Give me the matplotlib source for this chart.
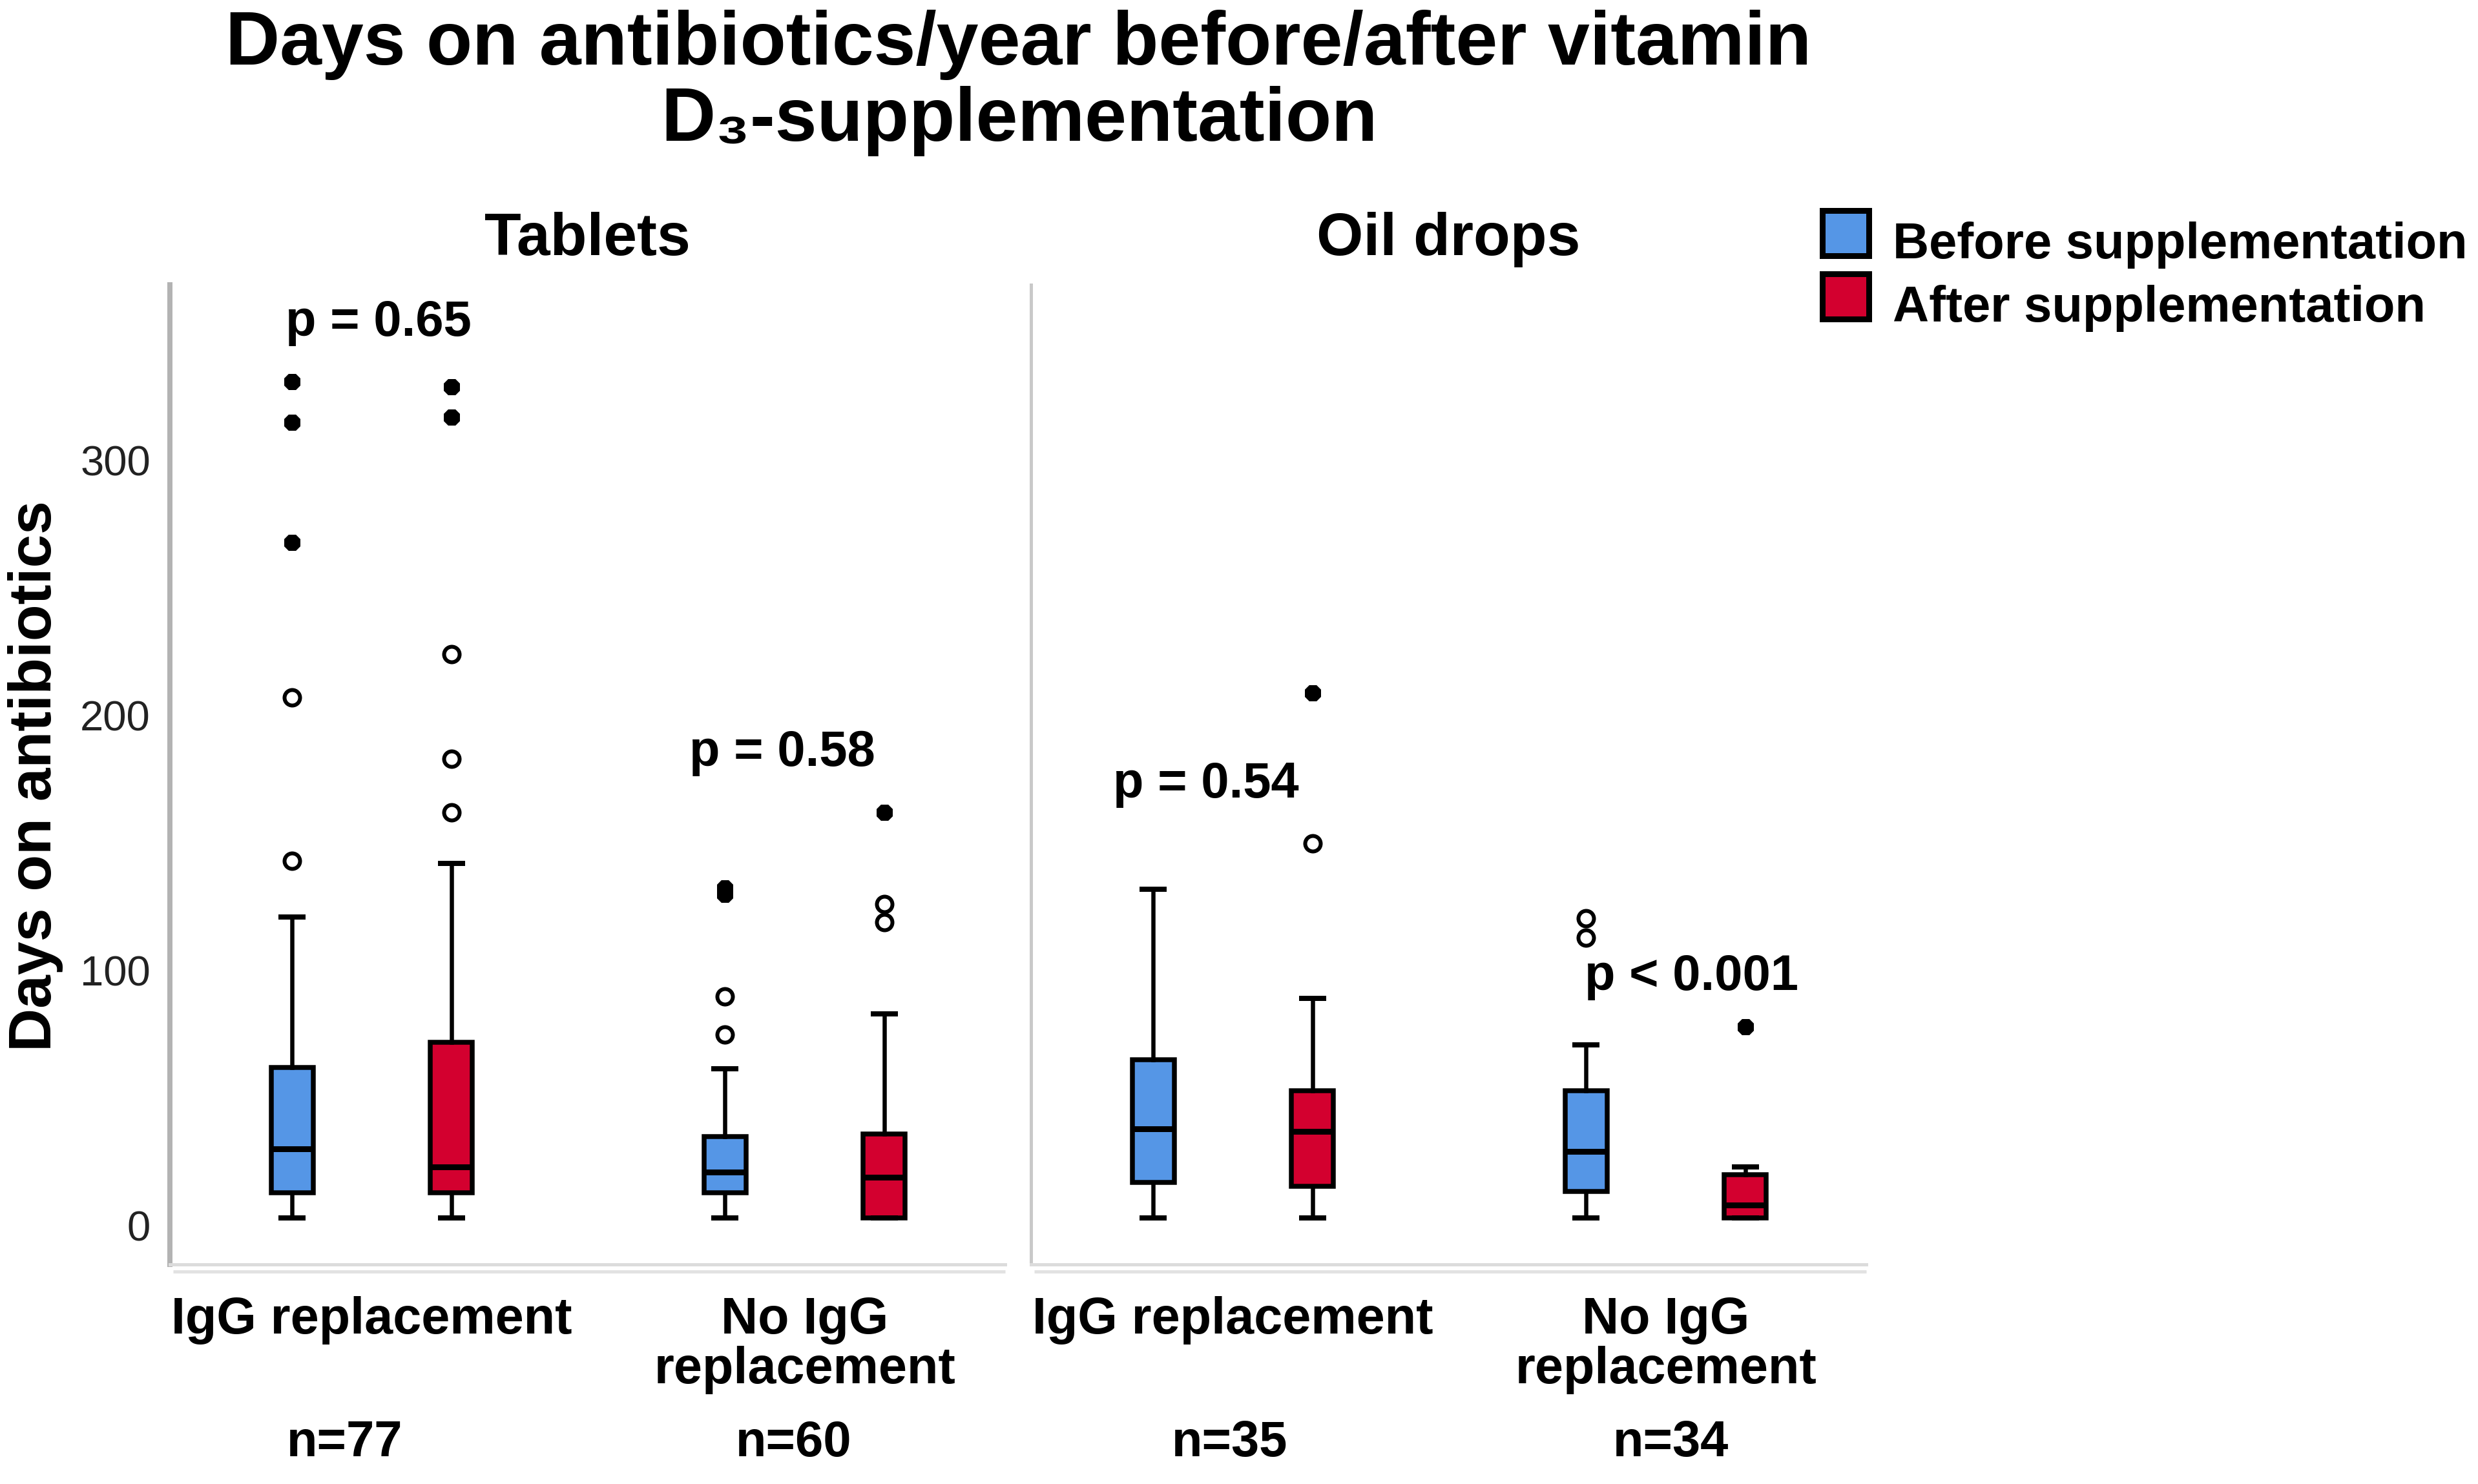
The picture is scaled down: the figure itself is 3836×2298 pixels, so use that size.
import matplotlib
matplotlib.use("Agg")
import matplotlib.pyplot as plt
import matplotlib.transforms as mtransforms
from matplotlib.patches import Rectangle

W, H = 3837, 2298
DPI = 100

# ---------------- data ----------------
title_lines = ["Days on antibiotics/year before/after vitamin", "D\u2083-supplementation"]
panels = ["Tablets", "Oil drops"]
groups = ["IgG replacement", "No IgG\nreplacement"]
group_n = [["n=77", "n=60"], ["n=35", "n=34"]]
series = ["Before supplementation", "After supplementation"]
colors = ["#5596E6", "#D3002F"]
p_values = [["p = 0.65", "p = 0.58"], ["p = 0.54", "p < 0.001"]]
y_ticks = [0, 100, 200, 300]
y_label = "Days on antibiotics"

# [group][series]
tab_whislo = [[3, 3], [3, 3]]
tab_q1 = [[13, 13], [13, 3]]
tab_med = [[30, 23], [21, 19]]
tab_q3 = [[62, 72], [35, 36]]
tab_whishi = [[121, 142], [61.5, 83]]
tab_outliers = [[[143, 207], [162, 183, 224]], [[75, 90], [119, 126]]]
tab_extremes = [[[268, 315, 331], [317, 329]], [[130, 132.5], [162]]]

oil_whislo = [[3, 3], [3, 3]]
oil_q1 = [[17, 15.5], [13.5, 3]]
oil_med = [[38, 37], [29, 8]]
oil_q3 = [[65, 53], [53, 20]]
oil_whishi = [[132, 89], [71, 23]]
oil_outliers = [[[], [150]], [[113, 120.5], []]]
oil_extremes = [[[], [209]], [[], [78]]]

panel_data = [
    (tab_whislo, tab_q1, tab_med, tab_q3, tab_whishi, tab_outliers, tab_extremes),
    (oil_whislo, oil_q1, oil_med, oil_q3, oil_whishi, oil_outliers, oil_extremes),
]

# ---------------- layout helpers ----------------
def P(px):
    return px * 72.0 / DPI

FONT = ["Liberation Sans", "DejaVu Sans"]
plt.rcParams["font.family"] = FONT

fig = plt.figure(figsize=(W / DPI, H / DPI), dpi=DPI)
fig.patch.set_facecolor("white")

ax_top, ax_bot = 441, 1958
ax_lefts = [263, 1596]
ax_w = 1293
xlim = (0.5336, 2.4634)
ylim = (-15.2, 368.9)
offset = 0.184
box_w = 0.097
cap_w = 0.05

# p-value text anchors (data coords) per panel/group
p_pos = [[(1.016, 348.9), (1.9485, 180.3)], [(0.938, 167.9), (2.059, 92.4)]]
# n label x positions (data coords) per panel/group
n_pos = [[0.937, 1.975], [0.993, 2.012]]

spine_cols = ["#b3b3b3", "#c9c9c9"]
spine_lw = [8, 5]

for pi, (lo, q1, med, q3, hi, outl, extr) in enumerate(panel_data):
    ax = fig.add_axes([ax_lefts[pi] / W, 1 - ax_bot / H, ax_w / W, (ax_bot - ax_top) / H])
    ax.set_xlim(*xlim)
    ax.set_ylim(*ylim)
    for s in ["top", "right"]:
        ax.spines[s].set_visible(False)
    ax.spines["left"].set_color(spine_cols[pi])
    ax.spines["left"].set_linewidth(P(spine_lw[pi]))
    ax.spines["bottom"].set_color("#dcdcdc")
    ax.spines["bottom"].set_linewidth(P(5))
    # second faint baseline just below
    tr = mtransforms.offset_copy(ax.transAxes, fig=fig, x=0, y=-11, units="dots")
    ax.plot([0.004, 1.0], [0, 0], transform=tr, color="#e2e2e2", lw=P(5),
            clip_on=False, solid_capstyle="butt")

    for gi in range(2):
        for si in range(2):
            x = gi + 1 + (-offset if si == 0 else offset)
            st = dict(whislo=lo[gi][si], q1=q1[gi][si], med=med[gi][si],
                      q3=q3[gi][si], whishi=hi[gi][si], fliers=[])
            ax.bxp([st], positions=[x], widths=box_w, patch_artist=True,
                   showfliers=False, capwidths=cap_w,
                   boxprops=dict(facecolor=colors[si], edgecolor="black", linewidth=P(7.5)),
                   medianprops=dict(color="black", linewidth=P(9)),
                   whiskerprops=dict(color="black", linewidth=P(6.5)),
                   capprops=dict(color="black", linewidth=P(8)),
                   manage_ticks=False)
            if outl[gi][si]:
                ax.plot([x] * len(outl[gi][si]), outl[gi][si], ls="none", marker="o",
                        markersize=P(24), markerfacecolor="white",
                        markeredgecolor="black", markeredgewidth=P(6), zorder=5)
            if extr[gi][si]:
                ax.plot([x] * len(extr[gi][si]), extr[gi][si], ls="none", marker="8",
                        markersize=P(24), markerfacecolor="black",
                        markeredgecolor="black", markeredgewidth=P(3), zorder=5)
        # p-value label
        px_, py_ = p_pos[pi][gi]
        ax.text(px_, py_, p_values[pi][gi], ha="center", va="baseline",
                fontsize=56, fontweight="bold", color="black")
        # n label
        btr = mtransforms.blended_transform_factory(ax.transData, ax.transAxes)
        ax.text(n_pos[pi][gi], (ax_bot - 2255) / (ax_bot - ax_top), group_n[pi][gi],
                transform=btr, ha="center", va="baseline",
                fontsize=56, fontweight="bold", color="black")

    ax.set_xticks([1, 2])
    ax.set_xticklabels(groups, fontsize=57, fontweight="bold", linespacing=1.04)
    ax.tick_params(axis="x", length=0, pad=P(49))
    if pi == 0:
        ax.set_yticks(y_ticks)
        ax.set_yticklabels([str(v) for v in y_ticks], fontsize=47, color="#222222")
        ax.tick_params(axis="y", length=0, pad=P(30))
    else:
        ax.set_yticks([])
    # panel title
    ax.text(0.5, (ax_bot - 395) / (ax_bot - ax_top), panels[pi], transform=ax.transAxes,
            ha="center", va="baseline", fontsize=67, fontweight="bold")

# title
fig.text(1577 / W, 1 - 100 / H, title_lines[0], ha="center", va="baseline",
         fontsize=84, fontweight="bold")
fig.text(1578 / W, 1 - 218 / H, title_lines[1], ha="center", va="baseline",
         fontsize=84, fontweight="bold")

# y label
fig.text(55 / W, 1 - 1202 / H, y_label, rotation=90, ha="center", va="center",
         fontsize=67, fontweight="bold")

# legend
leg_rows = [400, 498]
for si in range(2):
    yb = leg_rows[si]
    fig.add_artist(Rectangle((2821 / W, 1 - (yb - 4) / H), 72 / W, 70 / H,
                             transform=fig.transFigure, facecolor=colors[si],
                             edgecolor="black", linewidth=P(9)))
    fig.text(2930 / W, 1 - yb / H, series[si], ha="left", va="baseline",
             fontsize=56, fontweight="bold")

fig.savefig("out.png", dpi=DPI, facecolor="white")
